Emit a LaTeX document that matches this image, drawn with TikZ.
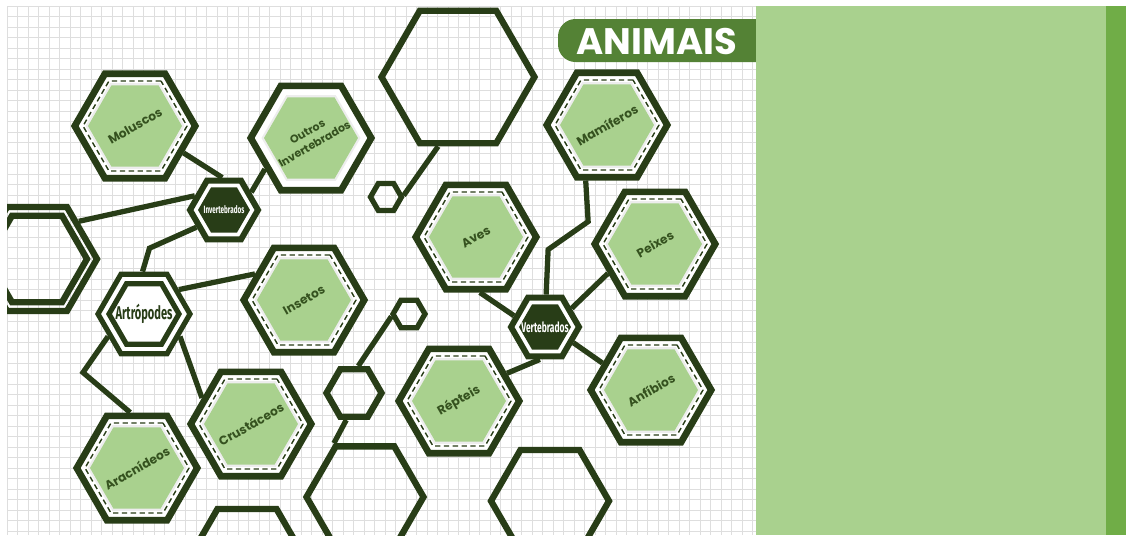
\documentclass[tikz,border=0pt]{standalone}
\usepackage{fontspec}
\setmainfont{Poppins}
\newfontfamily\hubfont{Fira Sans}[FakeStretch=0.6]
\usetikzlibrary{shapes.geometric}
\definecolor{hexd}{HTML}{283D17}
\definecolor{hexl}{HTML}{A9D18E}
\definecolor{labc}{HTML}{35521F}
\definecolor{gridc}{HTML}{DEDEDE}
\definecolor{pand}{HTML}{70AD47}
\definecolor{banc}{HTML}{548235}
\tikzset{
  hx/.style={regular polygon,regular polygon sides=6,inner sep=0pt},
  hexout/.style={hx,draw=hexd,line width=3.8pt,fill=white,minimum size=2.41cm},
  hexglow/.style={hx,fill=black!7,minimum size=1.98cm},
  hexdash/.style={hx,draw=hexd,line width=0.8pt,dash pattern=on 3pt off 2pt,minimum size=2.08cm},
  hexfill/.style={hx,fill=hexl,minimum size=1.88cm},
  hexlab/.style={font=\bfseries\fontsize{7}{8.5}\selectfont,text=labc,rotate=30,align=center},
  deco/.style={hx,draw=hexd,line width=3.6pt},
  hubout/.style={hx,draw=hexd,line width=3.4pt,fill=white,minimum size=1.36cm},
  hubin/.style={hx,fill=hexd,minimum size=1.04cm},
  hubtxt/.style={font=\hubfont\bfseries\fontsize{#1}{#1}\selectfont,text=white,inner sep=0pt},
  link/.style={draw=hexd,line width=3pt},
  gridln/.style={draw=gridc,line width=0.5pt}
}
\begin{document}
\begin{tikzpicture}[x=0.02cm,y=-0.02cm]
\useasboundingbox (0,0) rectangle (1126,535);
\fill[white] (0,0) rectangle (1126,535);
% squared paper
\foreach \gx in {7,17.5,...,756} \draw[gridln] (\gx,6) -- (\gx,535);
\foreach \gy in {6,16.5,...,535} \draw[gridln] (7,\gy) -- (756,\gy);

\begin{scope}
\clip (7,6) rectangle (756,535);
% empty hexagons
\node[deco,minimum size=3.06cm] (big) at (458,77) {};
\node[deco,line width=3pt,minimum size=0.62cm] (sm1) at (386,197) {};
\node[deco,line width=3pt,minimum size=0.64cm] (sm2) at (409,314) {};
\node[deco,minimum size=1.1cm] (md) at (354,393) {};
\node[deco,minimum size=2.34cm] (bc) at (365,497) {};
\node[deco,minimum size=2.36cm] (bl) at (247,560) {};
\node[deco,minimum size=2.36cm] (br) at (550,501) {};
\node[deco,minimum size=2.4cm] (lh) at (37,259) {};
\node[deco,minimum size=2.0cm] (lh-i) at (lh) {};

% groups
\foreach \n/\x/\y/\t in {mol/135/126/Moluscos,aves/476/237/Aves,mam/607/125/Mamíferos,
  pei/655/244/Peixes,ins/304/300/Insetos,cru/251/424/Crustáceos,ara/137/468/Aracnídeos,
  rep/459/401/Répteis,anf/651/390/Anfíbios}{
 \node[hexout] (\n) at (\x,\y) {};
 \node[hexglow] (\n-g) at (\n) {};
 \node[hexdash] (\n-d) at (\n) {};
 \node[hexfill] (\n-f) at (\n) {};
 \node[hexlab] (\n-t) at (\n) {\t};}
\node[hexout] (out) at (311,138) {};
\node[hexglow] (out-g) at (out) {};
\node[hexfill] (out-f) at (out) {};
\node[hexlab,font=\bfseries\fontsize{6.3}{8}\selectfont] (out-t) at (out) {Outros\\Invertebrados};

% hubs
\node[hubout] (inv) at (224,210) {};
\node[hubin] (inv-i) at (inv) {};
\node[hubtxt=6] (inv-t) at (inv) {Invertebrados};
\node[hubout] (ver) at (545,327) {};
\node[hubin] (ver-i) at (ver) {};
\node[hubtxt=8] (ver-t) at (ver) {Vertebrados};
\node[hx,draw=hexd,line width=2.95pt,fill=white,minimum size=1.84cm] (art) at (144,314) {};
\node[hx,draw=hexd,line width=2.95pt,minimum size=1.4cm] (art-i) at (art) {};
\node[hubtxt=10.5,text=hexd] (art-t) at (art) {Artrópodes};

% links
\draw[link] (mol.-29) -- (inv.93);
\draw[link] (out.-146) -- (inv.33);
\draw[link] (lh.42) -- (inv.154);
\draw[link] (inv.212) -- ++(-47,21) -- (art.92);
\draw[link] (art.35) -- (ins.152);
\draw[link] (art.-32) -- (cru.152);
\draw[link] (art.212) -- ++(-25,36) -- (ara.97);
\draw[link] (big.254) -- (sm1.5);
\draw[link] (sm2.188) -- (md.81);
\draw[link] (md.-106) -- (bc.120);
\draw[link] (aves.-86) -- (ver.160);
\draw[link] (ver.88) -- ++(2,-45) -- ++(40,-28) -- (mam.-111);
\draw[link] (ver.35) -- (pei.212);
\draw[link] (ver.-29) -- (anf.151);
\draw[link] (ver.-99) -- (rep.30);
\end{scope}

% title and side panel
\fill[banc,rounded corners=0.35cm] (558,19) rectangle (790,62);
\node[font=\bfseries\fontsize{21}{22}\selectfont,text=white] (title) at (657,41) {ANIMAIS};
\fill[hexl] (756,6) rectangle (1106,535);
\fill[pand] (1106,6) rectangle (1126,535);
\end{tikzpicture}
\end{document}
